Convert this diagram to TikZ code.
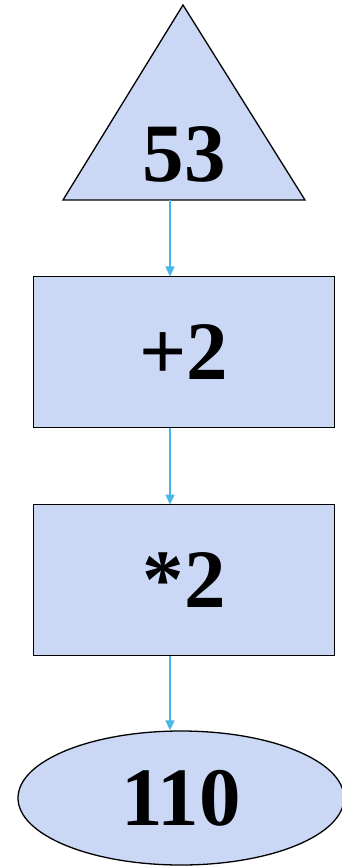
\documentclass[tikz,border=0pt]{standalone}
\usepackage{fontspec}
\setmainfont{Liberation Serif}
\usetikzlibrary{shapes.geometric,arrows.meta}
\definecolor{paleblue}{RGB}{202,216,246}
\definecolor{arrowblue}{RGB}{72,182,232}

\begin{document}
\begin{tikzpicture}[x=1pt,y=-1pt,
flow/.style={draw=arrowblue,line width=1.6pt,-{Triangle[length=10pt,width=9pt]}},
shapeline/.style={draw,line width=1.3pt,fill=paleblue},
bignum/.style={font=\fontsize{83}{83}\selectfont\bfseries,inner sep=0pt},
stepbox/.style={shapeline,rectangle,minimum width=301pt,minimum height=151pt,outer sep=0pt,inner sep=0pt}
]
\useasboundingbox (0,0) rectangle (341,866);
% start value
\draw[shapeline] (183,5) -- (305,200) -- (63,200) -- cycle;
\node[bignum] (start) at (184,154) {53};
\coordinate (tbase) at (170,200);
% operations
\node[stepbox,bignum] (plus) at (184,352) {+2};
\node[stepbox,bignum] (times) at (184,580) {*2};
% result
\node[shapeline,ellipse,bignum,minimum width=326pt,minimum height=134pt] (result) at (181,798) {110};
% arrows
\draw[flow] (tbase) -- (tbase |- plus.north);
\draw[flow] (tbase |- plus.south) -- (tbase |- times.north);
\draw[flow] (tbase |- times.south) -- (tbase |- result.north);
\end{tikzpicture}
\end{document}
